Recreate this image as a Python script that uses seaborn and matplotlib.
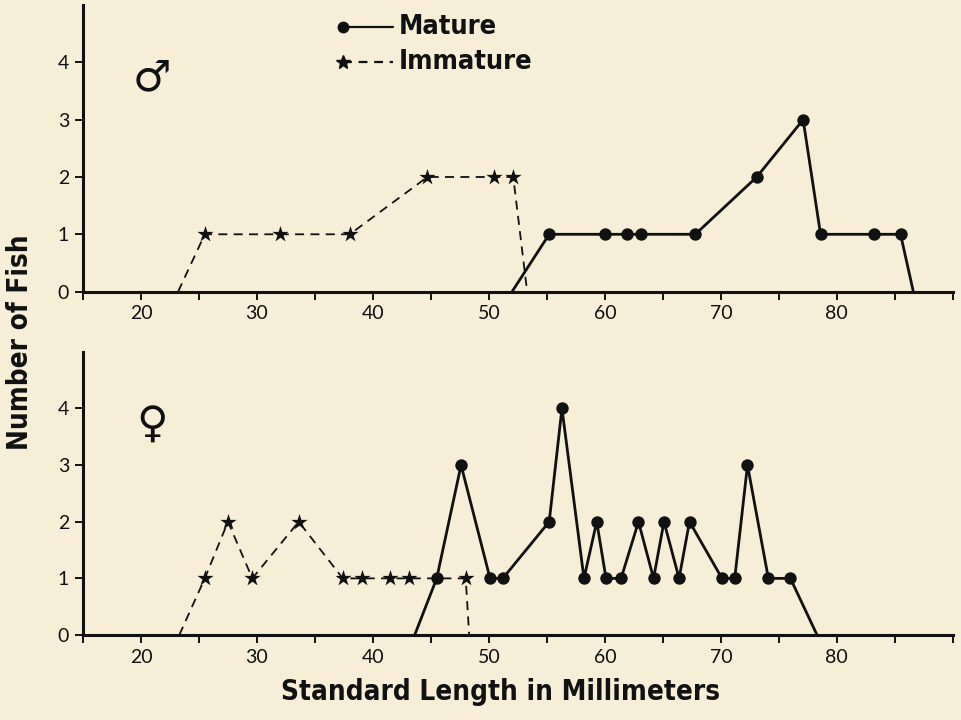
import numpy as np
import pandas as pd
import matplotlib.pyplot as plt
from matplotlib.ticker import MultipleLocator
import seaborn as sns

# data (length in mm, number of fish)
male_imm_len = [23.2, 25.5, 32.0, 38.0, 44.7, 50.4, 52.1, 53.3]
male_imm_n = [0, 1, 1, 1, 2, 2, 2, 0]
male_mat_len = [52.0, 55.2, 60.0, 61.9, 63.1, 67.8, 73.1, 77.1, 78.6, 83.2, 85.5, 86.6]
male_mat_n = [0, 1, 1, 1, 1, 1, 2, 3, 1, 1, 1, 0]

fem_imm_len = [23.3, 25.5, 27.5, 29.6, 33.6, 37.4, 39.1, 41.5, 43.1, 48.0, 48.3]
fem_imm_n = [0, 1, 2, 1, 2, 1, 1, 1, 1, 1, 0]
fem_mat_len = [43.6, 45.5, 47.6, 50.1, 51.2, 55.2, 56.3, 58.2, 59.3, 60.1, 61.4,
               62.9, 64.2, 65.1, 66.4, 67.3, 70.1, 71.2, 72.3, 74.1, 76.0, 78.3]
fem_mat_n = [0, 1, 3, 1, 1, 2, 4, 1, 2, 1, 1, 2, 1, 2, 1, 2, 1, 1, 3, 1, 1, 0]

BG = "#F6EED6"
INK = "#111111"
TICK_FONT = ["Lato", "DejaVu Sans"]

sns.set_style("ticks")
plt.rcParams["font.family"] = TICK_FONT

fig = plt.figure(figsize=(9.61, 7.2), dpi=100, facecolor=BG)
ax_m = fig.add_axes([0.0864, 0.595, 0.905, 0.398])
ax_f = fig.add_axes([0.0864, 0.118, 0.905, 0.3935])

label_kw = dict(family=["DejaVu Sans"], fontstretch="condensed",
                fontweight="bold", color=INK)


def draw_panel(ax, imm_x, imm_y, mat_x, mat_y, symbol):
    imm = pd.DataFrame({"len": imm_x, "n": imm_y})
    mat = pd.DataFrame({"len": mat_x, "n": mat_y})
    sns.lineplot(data=imm, x="len", y="n", ax=ax, color=INK, lw=1.3,
                 linestyle=(0, (5, 3.5)), estimator=None, sort=False)
    sns.lineplot(data=mat, x="len", y="n", ax=ax, color=INK, lw=2.0,
                 estimator=None, sort=False)
    sns.scatterplot(data=imm[imm["n"] > 0], x="len", y="n", ax=ax, marker="*",
                    s=150, color=INK, edgecolor=INK, linewidth=0, zorder=3)
    sns.scatterplot(data=mat[mat["n"] > 0], x="len", y="n", ax=ax, marker="o",
                    s=80, color=INK, edgecolor=INK, linewidth=0, zorder=3)

    ax.set_facecolor(BG)
    ax.set_xlim(15, 90)
    ax.set_ylim(0, 5)
    ax.set_xticks([20, 30, 40, 50, 60, 70, 80])
    ax.xaxis.set_minor_locator(MultipleLocator(5))
    ax.set_yticks([0, 1, 2, 3, 4])
    ax.tick_params(axis="both", which="both", direction="out", length=6,
                   width=1.4, color=INK, labelsize=14, labelcolor=INK, pad=4)
    for side in ["top", "right"]:
        ax.spines[side].set_visible(False)
    for side in ["left", "bottom"]:
        ax.spines[side].set_color(INK)
        ax.spines[side].set_linewidth(2.2)
    ax.set_xlabel("")
    ax.set_ylabel("")
    ax.text(0.079, 0.74, symbol, transform=ax.transAxes, fontsize=31,
            ha="center", va="center", color=INK, family=["DejaVu Sans"])


draw_panel(ax_m, male_imm_len, male_imm_n, male_mat_len, male_mat_n, "\u2642")
draw_panel(ax_f, fem_imm_len, fem_imm_n, fem_mat_len, fem_mat_n, "\u2640")

# key in the upper panel
key = [("Mature", "o", "-", 0.925, 7.5), ("Immature", "*", (0, (4, 3)), 0.80, 10)]
for label, mk, ls, yk, ms in key:
    ax_m.plot([0.299, 0.356], [yk, yk], transform=ax_m.transAxes, color=INK,
              lw=1.6, ls=ls, clip_on=False)
    ax_m.plot([0.299], [yk], transform=ax_m.transAxes, color=INK, marker=mk,
              ms=ms, lw=0, clip_on=False)
    ax_m.text(0.363, yk, label, transform=ax_m.transAxes, fontsize=19.5,
              va="center", ha="left", **label_kw)

fig.text(0.521, 0.02, "Standard Length in Millimeters", ha="center",
         va="bottom", fontsize=20, **label_kw)
fig.text(0.021, 0.525, "Number of Fish", ha="center", va="center",
         rotation=90, fontsize=20, **label_kw)

fig.savefig("out.png", dpi=100, facecolor=BG)
